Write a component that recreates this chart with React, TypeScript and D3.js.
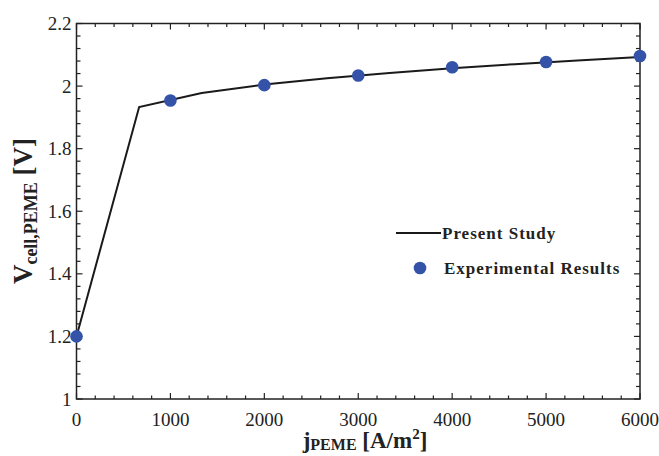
import React, { useEffect, useRef } from "react";
import * as d3 from "d3";

// model curve (Present Study)
const modelJ = [0, 667, 1333, 2000, 2667, 3333, 4000, 4667, 5333, 6000];
const modelV = [1.2, 1.933, 1.978, 2.005, 2.025, 2.042, 2.057, 2.07, 2.082, 2.093];

// experimental points
const expJ = [0, 1000, 2000, 3000, 4000, 5000, 6000];
const expV = [1.2, 1.954, 2.003, 2.034, 2.06, 2.077, 2.096];

const xTicks = [0, 1000, 2000, 3000, 4000, 5000, 6000];
const yTicks = [1, 1.2, 1.4, 1.6, 1.8, 2, 2.2];

const serif = "'Liberation Serif', 'Times New Roman', serif";

function App() {
    const chartRef = useRef<HTMLDivElement | null>(null);

    useEffect(() => {
        document.body.style.margin = "0";
        const width = 659;
        const height = 456;
        const marginLeft = 76.5;
        const marginRight = 19;
        const marginTop = 23.5;
        const marginBottom = 57;
        const dotColor = "#3452a8";

        const x = d3.scaleLinear().domain([0, 6000]).range([marginLeft, width - marginRight]);
        const y = d3.scaleLinear().domain([1, 2.2]).range([height - marginBottom, marginTop]);

        d3.select(chartRef.current).select("svg").remove();

        const svg = d3.select(chartRef.current)
            .append("svg")
            .attr("width", width)
            .attr("height", height)
            .style("display", "block")
            .style("background", "#fff");

        const x0 = x(0), x1 = x(6000), y0 = y(1), y1 = y(2.2);

        // ticks (inward, all four sides)
        const tickG = svg.append("g").attr("stroke", "#222").attr("stroke-width", 1.2);
        d3.range(0, 6001, 200).forEach(v => {
            const len = v % 1000 === 0 ? 6 : 3.5;
            tickG.append("line").attr("x1", x(v)).attr("x2", x(v)).attr("y1", y0).attr("y2", y0 - len);
            tickG.append("line").attr("x1", x(v)).attr("x2", x(v)).attr("y1", y1).attr("y2", y1 + len);
        });
        d3.range(0, 31).forEach(i => {
            const v = 1 + i * 0.04;
            const len = i % 5 === 0 ? 6 : 4;
            tickG.append("line").attr("x1", x0).attr("x2", x0 + len).attr("y1", y(v)).attr("y2", y(v));
            tickG.append("line").attr("x1", x1).attr("x2", x1 - len).attr("y1", y(v)).attr("y2", y(v));
        });

        svg.append("rect")
            .attr("x", x0).attr("y", y1)
            .attr("width", x1 - x0).attr("height", y0 - y1)
            .attr("fill", "none").attr("stroke", "#222").attr("stroke-width", 1.5);

        // tick labels
        svg.selectAll("text.xt")
            .data(xTicks)
            .enter()
            .append("text")
            .attr("x", d => x(d))
            .attr("y", y0 + 27)
            .attr("text-anchor", "middle")
            .attr("font-family", serif)
            .attr("font-size", 19)
            .attr("fill", "#222")
            .text(d => d);

        svg.selectAll("text.yt")
            .data(yTicks)
            .enter()
            .append("text")
            .attr("x", x0 - 5)
            .attr("y", d => y(d) + 6.5)
            .attr("text-anchor", "end")
            .attr("font-family", serif)
            .attr("font-size", 19)
            .attr("fill", "#222")
            .text(d => d3.format("~g")(d));

        // model line
        const line = d3.line<number>()
            .x((d, i) => x(modelJ[i]))
            .y(d => y(d));
        svg.append("path")
            .datum(modelV)
            .attr("d", line)
            .attr("fill", "none")
            .attr("stroke", "#1a1a1a")
            .attr("stroke-width", 2);

        // experimental dots
        svg.selectAll("circle.exp")
            .data(expV)
            .enter()
            .append("circle")
            .attr("cx", (d, i) => x(expJ[i]))
            .attr("cy", d => y(d))
            .attr("r", 6.3)
            .attr("fill", dotColor);

        // legend
        const lg = svg.append("g").attr("font-family", serif).attr("font-weight", "bold")
            .attr("font-size", 17).attr("letter-spacing", 1).attr("fill", "#222");
        lg.append("line").attr("x1", 396).attr("x2", 441).attr("y1", 233).attr("y2", 233)
            .attr("stroke", "#1a1a1a").attr("stroke-width", 2);
        lg.append("text").attr("x", 442).attr("y", 239).text("Present Study");
        lg.append("circle").attr("cx", 420).attr("cy", 268).attr("r", 6.3).attr("fill", dotColor);
        lg.append("text").attr("x", 444).attr("y", 274).text("Experimental Results");

        // axis titles
        const xt = svg.append("text")
            .attr("x", 365).attr("y", 448)
            .attr("text-anchor", "middle")
            .attr("font-family", serif).attr("font-weight", "bold")
            .attr("font-size", 23).attr("fill", "#222");
        xt.append("tspan").text("j");
        xt.append("tspan").attr("font-size", 16).attr("dy", 2).text("PEME");
        xt.append("tspan").attr("dy", -2).text(" [A/m");
        xt.append("tspan").attr("font-size", 15).attr("dy", -9).text("2");
        xt.append("tspan").attr("dy", 9).text("]");

        const yt = svg.append("text")
            .attr("transform", `translate(32, 211) rotate(-90)`)
            .attr("text-anchor", "middle")
            .attr("font-family", serif).attr("font-weight", "bold")
            .attr("font-size", 27).attr("fill", "#222");
        yt.append("tspan").text("V");
        yt.append("tspan").attr("font-size", 18).attr("dy", 5).text("cell,PEME");
        yt.append("tspan").attr("dy", -5).text(" [V]");
    }, []);

    return <div ref={chartRef}></div>;
}

export default App;
